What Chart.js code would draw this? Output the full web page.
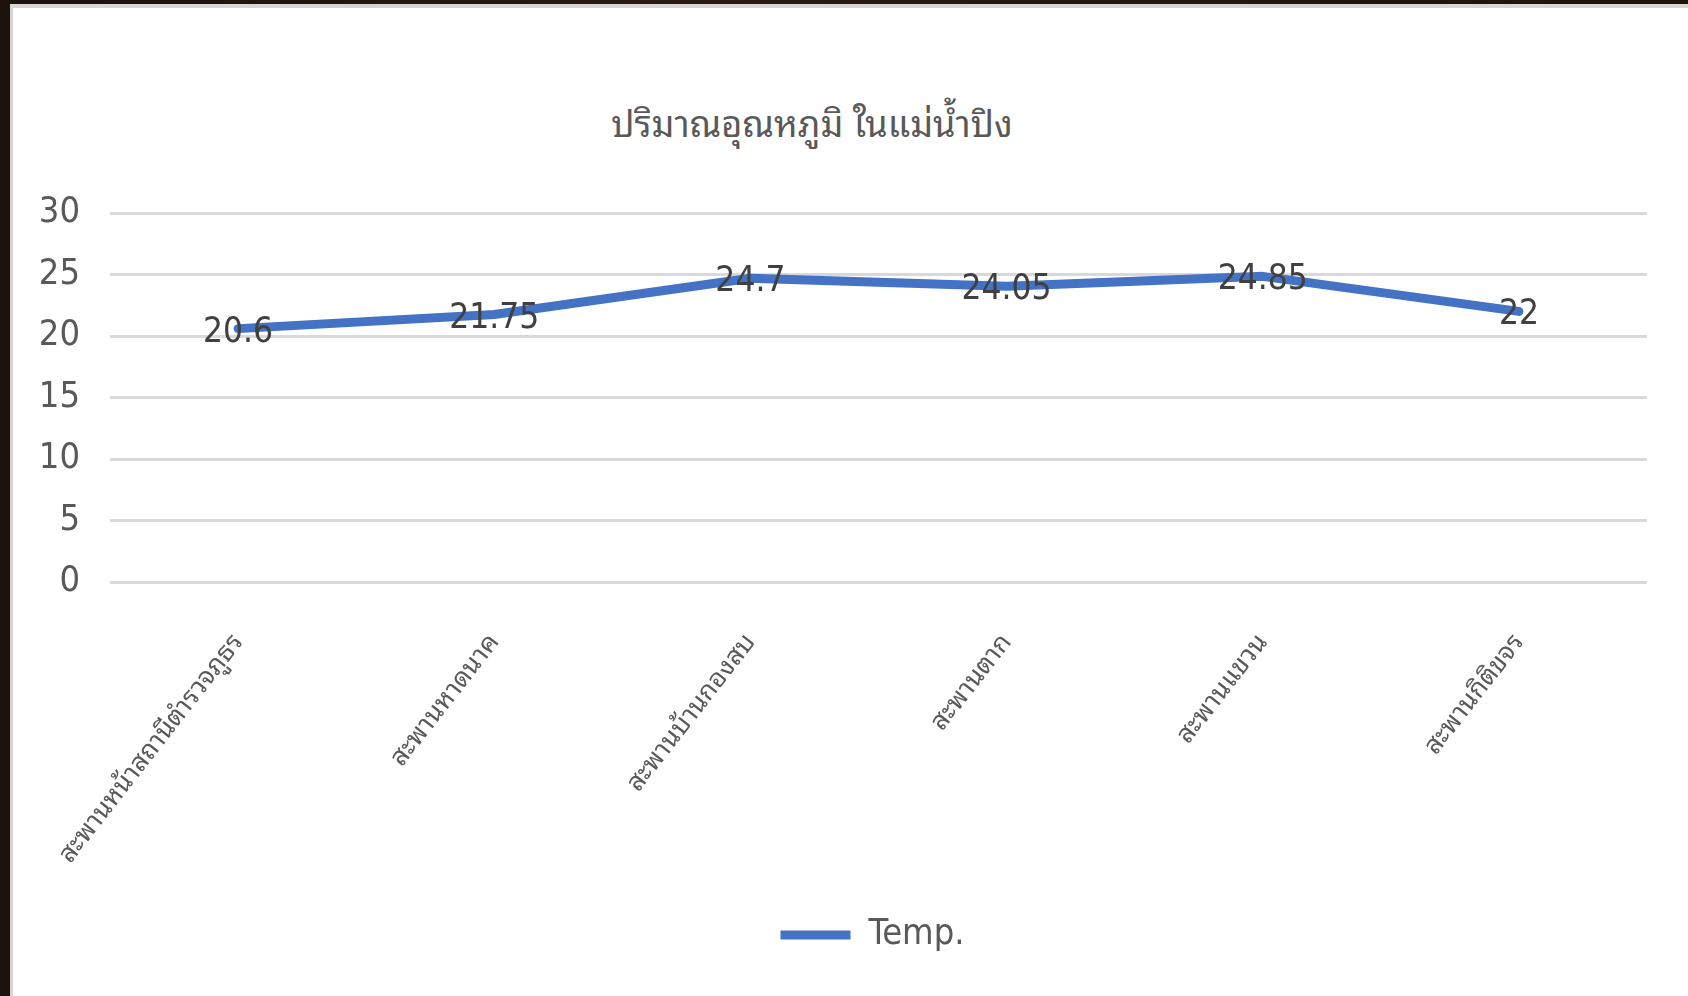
<!DOCTYPE html>
<html lang="th">
<head>
<meta charset="utf-8">
<title>ปริมาณอุณหภูมิ ในแม่น้ำปิง</title>
<script src="https://cdn.jsdelivr.net/npm/chart.js@4.4.1/dist/chart.umd.min.js"></script>
<style>
  html, body { margin: 0; padding: 0; }
  body {
    width: 1688px; height: 996px; overflow: hidden; position: relative;
    background: linear-gradient(90deg, #1c110b, #2a1a12 40%, #1f130c);
  }
  #frame {
    position: absolute; left: 10px; top: 4px; right: 0; bottom: 0;
    background: #d6d6d6;
  }
  #panel {
    position: absolute; left: 3px; top: 4px; width: 1675px; height: 988px;
    background: #ffffff;
  }
  #chartTitle {
    position: absolute; left: 0; top: 95px; width: 1598px;
    text-align: center; color: #595959;
    font: 36px 'Noto Sans Thai Looped', 'Noto Serif Thai', 'Noto Sans Thai', 'Noto Sans', sans-serif;
    line-height: 1;
  }
  #tempChart { position: absolute; left: 0; top: 0; }
</style>
</head>
<body>
<div id="frame">
  <div id="panel">
    <div id="chartTitle">ปริมาณอุณหภูมิ ในแม่น้ำปิง</div>
    <canvas id="tempChart" width="1675" height="988"></canvas>
  </div>
</div>
<script>
// measuring points along the Ping river
const categories = [
  'สะพานหน้าสถานีตำรวจภูธร',
  'สะพานหาดนาค',
  'สะพานบ้านกองสบ',
  'สะพานตาก',
  'สะพานแขวน',
  'สะพานกิติขจร'
];
// water temperature at each point
const tempValues = [20.6, 21.75, 24.7, 24.05, 24.85, 22];
const yTicks = [0, 5, 10, 15, 20, 25, 30];
const seriesName = 'Temp.';

const numFont = "'Liberation Sans Narrow', 'DejaVu Sans Condensed', 'Open Sans', sans-serif";
const thaiFont = "'Noto Sans Thai Looped', 'Noto Serif Thai', 'Noto Sans Thai', 'Noto Sans', sans-serif";

// value labels sitting on top of each point
const valueLabels = {
  id: 'valueLabels',
  afterDatasetsDraw(chart) {
    const ctx = chart.ctx;
    const meta = chart.getDatasetMeta(0);
    const values = chart.data.datasets[0].data;
    ctx.save();
    ctx.font = '35px ' + numFont;
    ctx.fillStyle = '#404040';
    ctx.textAlign = 'center';
    ctx.textBaseline = 'middle';
    meta.data.forEach((pt, i) => {
      ctx.fillText(String(values[i]), pt.x, pt.y + 4);
    });
    ctx.restore();
  }
};

// nudge the legend a little to the right of the canvas centre
const legendShift = {
  id: 'legendShift',
  afterLayout(chart) {
    if (chart.legend) {
      chart.legend.left += 22;
      chart.legend.right += 22;
    }
  }
};

const ctx = document.getElementById('tempChart').getContext('2d');
new Chart(ctx, {
  type: 'line',
  data: {
    labels: categories,
    datasets: [{
      label: seriesName,
      data: tempValues,
      borderColor: '#4472C4',
      backgroundColor: '#4472C4',
      borderWidth: 9,
      borderCapStyle: 'round',
      borderJoinStyle: 'round',
      tension: 0,
      pointRadius: 0,
      pointHoverRadius: 0,
      pointStyle: 'line'
    }]
  },
  options: {
    responsive: false,
    animation: false,
    layout: {
      padding: { left: 0, right: 0, top: 205, bottom: 33 }
    },
    scales: {
      x: {
        offset: true,
        grid: { display: false },
        border: { display: false },
        ticks: {
          autoSkip: false,
          minRotation: 52,
          maxRotation: 52,
          padding: 38,
          color: '#595959',
          font: { family: thaiFont, size: 26 }
        },
        afterFit(scale) { scale.height = 325; }
      },
      y: {
        min: yTicks[0],
        max: yTicks[yTicks.length - 1],
        grid: { color: '#d9d9d9', lineWidth: 3, drawTicks: false },
        border: { display: false },
        ticks: {
          stepSize: yTicks[1] - yTicks[0],
          padding: 30,
          color: '#595959',
          font: { family: numFont, size: 36 }
        },
        afterFit(scale) { scale.width = 97; }
      },
      // empty strip on the right so the plot stops short of the edge
      yRight: {
        position: 'right',
        grid: { display: false },
        border: { display: false },
        ticks: { display: false },
        afterFit(scale) { scale.width = 41; }
      }
    },
    plugins: {
      title: { display: false },
      tooltip: { enabled: false },
      legend: {
        position: 'bottom',
        labels: {
          usePointStyle: true,
          pointStyleWidth: 70,
          boxHeight: 9,
          padding: 10,
          color: '#595959',
          font: { family: numFont, size: 36 }
        }
      }
    }
  },
  plugins: [valueLabels, legendShift]
});
</script>
</body>
</html>
